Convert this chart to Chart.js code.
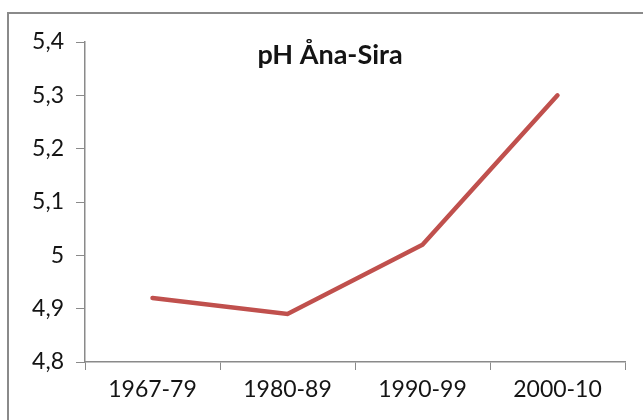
<!DOCTYPE html>
<html>
<head>
<meta charset="utf-8">
<script src="https://cdn.jsdelivr.net/npm/chart.js@4"></script>
<style>
  body { margin: 0; background: #fff; overflow: hidden; }
  #wrap { position: relative; width: 643px; height: 420px; }
  #frame { position: absolute; left: 7px; top: 12px; width: 700px; height: 500px; border: 2px solid #8a8a8a; }
  canvas { position: absolute; left: 0; top: 0; }
</style>
</head>
<body>
<div id="wrap">
  <div id="frame"></div>
  <canvas id="chart" width="643" height="420"></canvas>
</div>
<script>
const periods = ['1967-79', '1980-89', '1990-99', '2000-10'];
const phValues = [4.92, 4.89, 5.02, 5.30];
const chartTitle = 'pH Åna-Sira';

const axisColor = '#8a8a8a';
const lineColor = '#c0504d';
const textColor = '#141414';
const fontFamily = 'Lato, "Open Sans", sans-serif';

// title sits inside the plot area, so draw it ourselves
const titleInside = {
    id: 'titleInside',
    afterDraw(chart) {
        const ctx = chart.ctx;
        ctx.save();
        ctx.font = 'bold 27px ' + fontFamily;
        ctx.fillStyle = textColor;
        ctx.textAlign = 'center';
        ctx.textBaseline = 'middle';
        ctx.fillText(chartTitle, 330, 55);
        ctx.restore();
    }
};

const chart = new Chart(document.getElementById('chart'), {
    type: 'line',
    data: {
        labels: periods,
        datasets: [{
            data: phValues,
            borderColor: lineColor,
            borderWidth: 4.5,
            borderCapStyle: 'round',
            pointRadius: 0,
            tension: 0
        }]
    },
    options: {
        responsive: false,
        animation: false,
        layout: { padding: { left: 0, right: 18, top: 42, bottom: 0 } },
        plugins: { legend: { display: false }, tooltip: { enabled: false } },
        scales: {
            x: {
                offset: true,
                grid: { offset: true, drawOnChartArea: false, color: axisColor, tickLength: 8 },
                border: { color: axisColor, width: 1.5 },
                ticks: { color: textColor, font: { family: fontFamily, size: 23 }, padding: 6 },
                afterFit: (s) => { s.height = 58; }
            },
            y: {
                min: 4.8,
                max: 5.4,
                grid: { drawOnChartArea: false, color: axisColor, tickLength: 9 },
                border: { color: axisColor, width: 1.5 },
                ticks: {
                    stepSize: 0.1,
                    color: textColor,
                    font: { family: fontFamily, size: 23 },
                    padding: 12,
                    callback: (v) => String(Number(v.toFixed(1))).replace('.', ',')
                },
                afterFit: (s) => { s.width = 85; }
            }
        }
    },
    plugins: [titleInside]
});
</script>
</body>
</html>
